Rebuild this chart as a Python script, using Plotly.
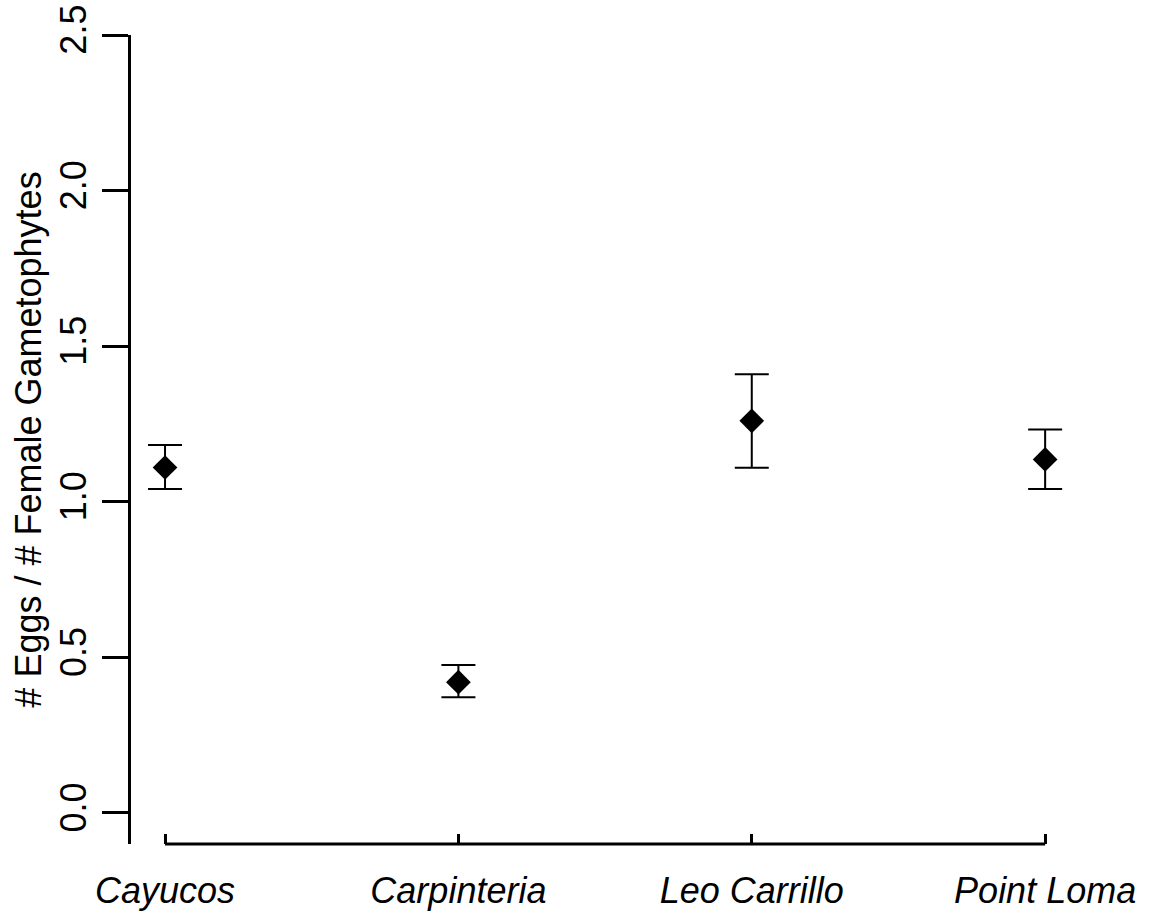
import plotly.graph_objects as go

sites = ["Cayucos", "Carpinteria", "Leo Carrillo", "Point Loma"]
means = [1.11, 0.42, 1.26, 1.136]
upper = [1.182, 0.475, 1.41, 1.232]
lower = [1.041, 0.372, 1.109, 1.041]
yticks = [0.0, 0.5, 1.0, 1.5, 2.0, 2.5]
ytick_text = ["0.0", "0.5", "1.0", "1.5", "2.0", "2.5"]

err_plus = [u - m for u, m in zip(upper, means)]
err_minus = [m - l for m, l in zip(means, lower)]

FONT = "Liberation Sans, Arial, sans-serif"

fig = go.Figure()
fig.add_trace(go.Scatter(
    x=sites, y=means, mode="markers",
    marker=dict(symbol="diamond", size=19, color="black"),
    error_y=dict(type="data", symmetric=False, array=err_plus, arrayminus=err_minus,
                 color="black", thickness=2, width=17),
    showlegend=False,
    cliponaxis=False,
))

fig.add_shape(type="line", xref="x", yref="paper", x0=0, x1=3, y0=0, y1=0,
              line=dict(color="black", width=3))

fig.update_layout(
    width=1149, height=916,
    margin=dict(l=131, r=49, t=35, b=72),
    plot_bgcolor="white", paper_bgcolor="white",
    font=dict(family=FONT, size=36, color="black"),
    xaxis=dict(
        type="category", range=[-0.116, 3.187], automargin=False,
        showgrid=False, zeroline=False, showline=False,
        ticks="inside", ticklen=10, tickwidth=3, tickcolor="black",
        tickfont=dict(family=FONT, size=36, style="italic"),
        ticklabelstandoff=22,
    ),
    yaxis=dict(
        range=[-0.1, 2.5], automargin=False,
        tickvals=yticks, ticktext=ytick_text,
        showgrid=False, zeroline=False,
        showline=True, linewidth=3, linecolor="black",
        ticks="outside", ticklen=26, tickwidth=3, tickcolor="black",
        tickangle=-90,
        tickfont=dict(family=FONT, size=36),
        ticklabelstandoff=2,
        title=dict(text="# Eggs / # Female Gametophytes", font=dict(family=FONT, size=36), standoff=0),
    ),
)

fig.write_html("out.html", config={"displayModeBar": False},
               post_script="document.body.style.margin='0';")
